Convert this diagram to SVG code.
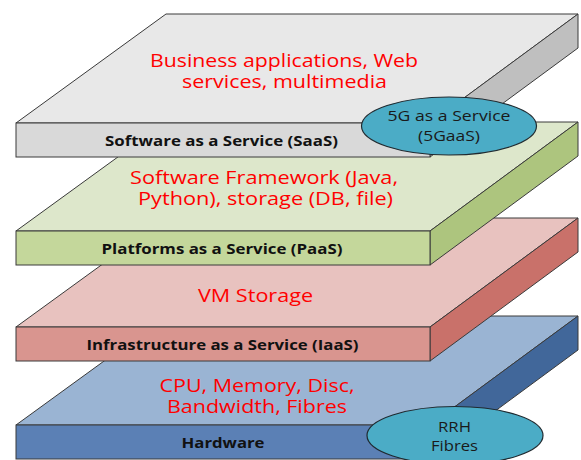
<svg xmlns="http://www.w3.org/2000/svg" width="581" height="460" viewBox="0 0 581 460">
<style>
  .edge { stroke: #3a3a3a; stroke-width: 1; stroke-linejoin: miter; }
  .red { font-family: "Open Sans", "Liberation Sans", sans-serif; font-size: 18.5px; fill: #ff0000; text-anchor: middle; }
  .lab { font-family: "Open Sans", "Liberation Sans", sans-serif; font-size: 15px; font-weight: bold; fill: #111111; text-anchor: middle; }
  .ell { fill: #4bacc6; stroke: #1f2a30; stroke-width: 1.2; }
  .etx { font-family: "Open Sans", "Liberation Sans", sans-serif; font-size: 15px; fill: #1a1a1a; text-anchor: middle; }
</style>
<rect width="581" height="460" fill="#ffffff"/>

<g id="hardware">
  <polygon class="edge" fill="#9ab4d3" points="16,425 166,316 578,316 430,425"/>
  <polygon class="edge" fill="#41679a" points="430,425 578,316 578,350 430,459"/>
  <rect class="edge" fill="#5b80b5" x="16" y="425" width="414" height="34"/>
  <text class="red" x="257" y="391.5" textLength="195" lengthAdjust="spacingAndGlyphs">CPU, Memory, Disc,</text>
  <text class="red" x="257" y="413" textLength="180" lengthAdjust="spacingAndGlyphs">Bandwidth, Fibres</text>
  <text class="lab" x="223" y="448" textLength="83" lengthAdjust="spacingAndGlyphs">Hardware</text>
</g>

<g id="iaas">
  <polygon class="edge" fill="#e8c2bf" points="16,327 166,218 578,218 430,327"/>
  <polygon class="edge" fill="#c9716a" points="430,327 578,218 578,252 430,361"/>
  <rect class="edge" fill="#d9958f" x="16" y="327" width="414" height="34"/>
  <text class="red" x="255.5" y="302" textLength="115" lengthAdjust="spacingAndGlyphs">VM Storage</text>
  <text class="lab" x="222.5" y="350" textLength="272" lengthAdjust="spacingAndGlyphs">Infrastructure as a Service (IaaS)</text>
</g>

<g id="paas">
  <polygon class="edge" fill="#dde7cb" points="16,231 166,122 578,122 430,231"/>
  <polygon class="edge" fill="#adc57e" points="430,231 578,122 578,156 430,265"/>
  <rect class="edge" fill="#c4d79b" x="16" y="231" width="414" height="34"/>
  <text class="red" x="264" y="183.5" textLength="268" lengthAdjust="spacingAndGlyphs">Software Framework (Java,</text>
  <text class="red" x="265.5" y="205" textLength="255" lengthAdjust="spacingAndGlyphs">Python), storage (DB, file)</text>
  <text class="lab" x="222" y="253.5" textLength="241" lengthAdjust="spacingAndGlyphs">Platforms as a Service (PaaS)</text>
</g>

<g id="saas">
  <polygon class="edge" fill="#e8e8e8" points="16,123 166,14 578,14 430,123"/>
  <polygon class="edge" fill="#bfbfbf" points="430,123 578,14 578,48 430,157"/>
  <rect class="edge" fill="#d9d9d9" x="16" y="123" width="414" height="34"/>
  <text class="red" x="284" y="66.5" textLength="268" lengthAdjust="spacingAndGlyphs">Business applications, Web</text>
  <text class="red" x="284.5" y="87.5" textLength="205" lengthAdjust="spacingAndGlyphs">services, multimedia</text>
  <text class="lab" x="221.5" y="146" textLength="233" lengthAdjust="spacingAndGlyphs">Software as a Service (SaaS)</text>
</g>

<g id="fivegaas">
  <ellipse class="ell" cx="449" cy="126" rx="87.5" ry="29"/>
  <text class="etx" x="449" y="121" textLength="123" lengthAdjust="spacingAndGlyphs">5G as a Service</text>
  <text class="etx" x="449" y="140.5" textLength="62" lengthAdjust="spacingAndGlyphs">(5GaaS)</text>
</g>

<g id="rrh">
  <ellipse class="ell" cx="455" cy="435.5" rx="88" ry="29"/>
  <text class="etx" x="454.5" y="432" textLength="33" lengthAdjust="spacingAndGlyphs">RRH</text>
  <text class="etx" x="454.5" y="450.5" textLength="47" lengthAdjust="spacingAndGlyphs">Fibres</text>
</g>

<g id="connectors"></g>
</svg>
